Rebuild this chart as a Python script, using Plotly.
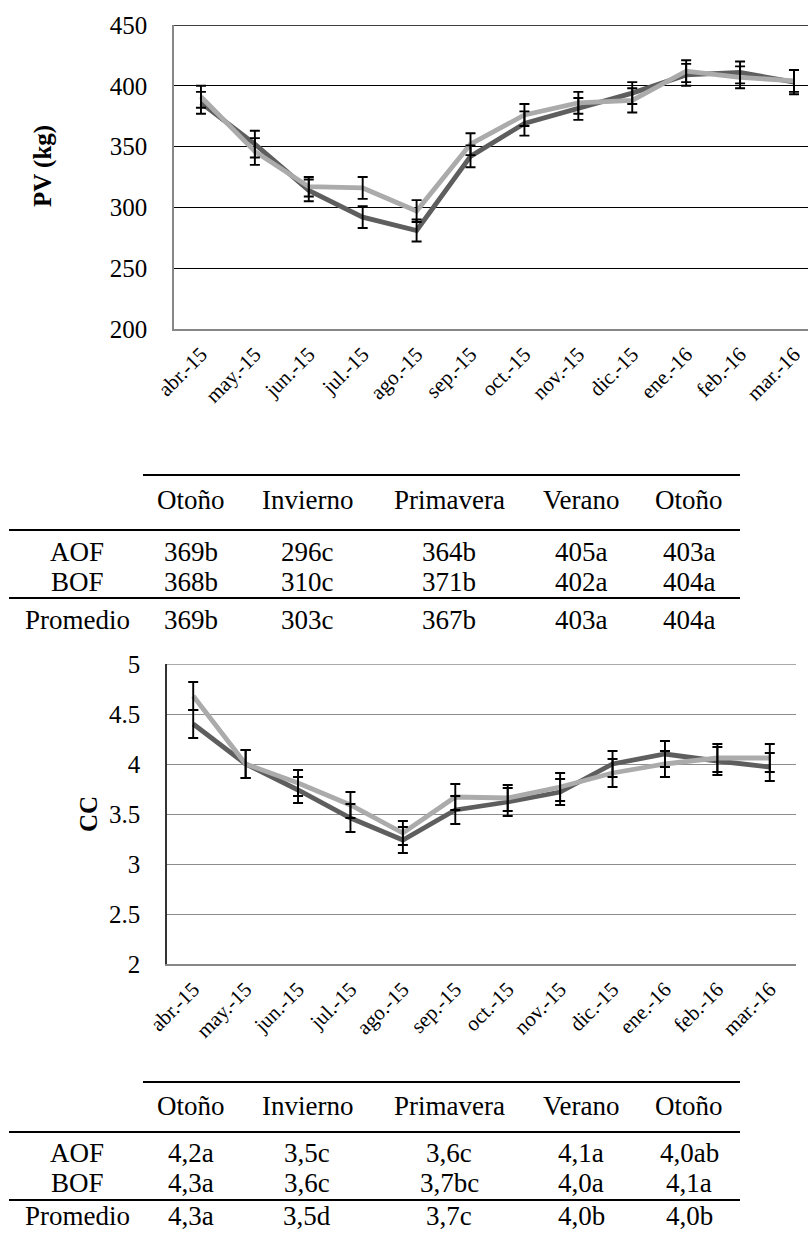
import plotly.graph_objects as go

W, H = 808, 1234

# Months on the category axis
months = ["abr.-15", "may.-15", "jun.-15", "jul.-15", "ago.-15", "sep.-15",
          "oct.-15", "nov.-15", "dic.-15", "ene.-16", "feb.-16", "mar.-16"]

# Live weight (PV, kg) per month with error
pv_aof = [386, 352, 314, 292, 281, 342, 369, 381, 394, 409, 411, 403]
pv_aof_err = [9, 11, 9, 9, 9, 9, 10, 9, 9, 9, 9, 10]
pv_bof = [391, 346, 317, 316, 297, 352, 376, 386, 388, 412, 407, 404]
pv_bof_err = [9, 11, 8, 9, 9, 9, 9, 9, 10, 9, 9, 9]

# Body condition score (CC) per month with error
cc_aof = [4.40, 4.00, 3.74, 3.46, 3.24, 3.54, 3.62, 3.72, 4.00, 4.10, 4.03, 3.97]
cc_aof_err = [0.14, 0.14, 0.13, 0.14, 0.13, 0.14, 0.14, 0.13, 0.13, 0.13, 0.14, 0.14]
cc_bof = [4.68, 4.00, 3.81, 3.59, 3.31, 3.67, 3.66, 3.77, 3.91, 4.00, 4.06, 4.06]
cc_bof_err = [0.14, 0.14, 0.13, 0.13, 0.12, 0.13, 0.13, 0.14, 0.14, 0.13, 0.14, 0.14]

# Seasonal summary tables
seasons = ["Otoño", "Invierno", "Primavera", "Verano", "Otoño"]
row_labels = ["AOF", "BOF", "Promedio"]
pv_tab_aof = ["369b", "296c", "364b", "405a", "403a"]
pv_tab_bof = ["368b", "310c", "371b", "402a", "404a"]
pv_tab_mean = ["369b", "303c", "367b", "403a", "404a"]
cc_tab_aof = ["4,2a", "3,5c", "3,6c", "4,1a", "4,0ab"]
cc_tab_bof = ["4,3a", "3,6c", "3,7bc", "4,0a", "4,1a"]
cc_tab_mean = ["4,3a", "3,5d", "3,7c", "4,0b", "4,0b"]

FONT = "Liberation Serif"
DARK = "#5e5e5e"
LIGHT = "#ababab"


def px(x):
    return x / W


def py(y):
    return 1 - y / H


fig = go.Figure()


def add_series(xa, ya, y, err, color):
    fig.add_trace(go.Scatter(
        x=months, y=y, mode="lines", xaxis=xa, yaxis=ya,
        line=dict(color=color, width=4.8), hoverinfo="skip", showlegend=False))
    return (xa, ya, y, err)


bars = []
bars.append(add_series("x", "y", pv_aof, pv_aof_err, DARK))
bars.append(add_series("x", "y", pv_bof, pv_bof_err, LIGHT))
bars.append(add_series("x2", "y2", cc_aof, cc_aof_err, DARK))
bars.append(add_series("x2", "y2", cc_bof, cc_bof_err, LIGHT))

# Error bars drawn above the lines
for xa, ya, y, err in bars:
    fig.add_trace(go.Scatter(
        x=months, y=y, mode="markers", xaxis=xa, yaxis=ya,
        marker=dict(size=1, opacity=0),
        error_y=dict(type="data", array=err, color="black", thickness=1.9, width=5),
        hoverinfo="skip", showlegend=False))

axis_font = dict(family=FONT, size=25, color="black")
xtick_font = dict(family=FONT, size=21, color="black")

fig.update_layout(
    template="none",
    width=W, height=H,
    margin=dict(l=0, r=0, t=0, b=0, autoexpand=False),
    paper_bgcolor="white", plot_bgcolor="white",
    showlegend=False,
    xaxis=dict(domain=[px(174), 1.0], range=[-0.5, 11.26], type="category",
               anchor="y", automargin=False, showgrid=False, showline=True,
               linecolor="#878787", linewidth=1.5, tickangle=-45,
               tickfont=xtick_font, ticks="outside", ticklen=3,
               tickcolor="rgba(0,0,0,0)"),
    yaxis=dict(domain=[py(329), py(25)], range=[200, 450], dtick=50,
               anchor="x", automargin=False, showgrid=True, gridcolor="black",
               gridwidth=1.3, showline=True, linecolor="#878787", linewidth=1.5,
               zeroline=False, tickfont=axis_font,
               ticks="outside", ticklen=20, tickcolor="rgba(0,0,0,0)"),
    xaxis2=dict(domain=[px(167), px(796)], range=[-0.5, 11.5], type="category",
                anchor="y2", automargin=False, showgrid=False, showline=True,
                linecolor="#878787", linewidth=1.5, tickangle=-45,
                tickfont=xtick_font, ticks="outside", ticklen=3,
                tickcolor="rgba(0,0,0,0)"),
    yaxis2=dict(domain=[py(964), py(664)], range=[2, 5], dtick=0.5,
                anchor="x2", automargin=False, showgrid=True, gridcolor="#8c8c8c",
                gridwidth=1.3, showline=True, linecolor="#333333", linewidth=1.5,
                zeroline=False, tickfont=axis_font,
                ticks="outside", ticklen=20, tickcolor="rgba(0,0,0,0)"),
)

annotations = []
shapes = []

# Top gridlines that close each plot area
shapes.append(dict(type="line", xref="x domain", yref="y", x0=0, x1=1,
                   y0=450, y1=450, line=dict(color="black", width=1.5)))
shapes.append(dict(type="line", xref="x2 domain", yref="y2", x0=0, x1=1,
                   y0=5, y1=5, line=dict(color="#8c8c8c", width=1.5)))

# Axis titles
annotations.append(dict(text="<b>PV (kg)</b>", x=px(43), y=py(166), xref="paper",
                        yref="paper", textangle=-90, showarrow=False,
                        xanchor="center", yanchor="middle",
                        font=dict(family=FONT, size=25, color="black")))
annotations.append(dict(text="<b>CC</b>", x=px(88), y=py(814), xref="paper",
                        yref="paper", textangle=-90, showarrow=False,
                        xanchor="center", yanchor="middle",
                        font=dict(family=FONT, size=25, color="black")))

col_x = [191, 307, 449, 581, 689]
label_x = 77
TFONT = dict(family=FONT, size=27, color="black")


def cell(text, x, y):
    annotations.append(dict(text=text, x=px(x), y=py(y), xref="paper",
                            yref="paper", showarrow=False, font=TFONT,
                            xanchor="center", yanchor="middle", borderpad=0))


def table(top, header_y, rule2, rows_y, rule3, rows):
    for yline, x0 in ((top, 143), (rule2, 9), (rule3, 9)):
        shapes.append(dict(type="line", xref="paper", yref="paper",
                           x0=px(x0), x1=px(740), y0=py(yline), y1=py(yline),
                           line=dict(color="black", width=2.2)))
    for s, cx in zip(seasons, col_x):
        cell(s, cx, header_y)
    for lab, vals, ry in zip(row_labels, rows, rows_y):
        cell(lab, label_x, ry)
        for v, cx in zip(vals, col_x):
            cell(v, cx, ry)


table(475, 500, 530, [552, 582, 620], 598, [pv_tab_aof, pv_tab_bof, pv_tab_mean])
table(1082, 1106, 1132, [1153, 1183, 1216], 1200, [cc_tab_aof, cc_tab_bof, cc_tab_mean])

fig.update_layout(annotations=annotations, shapes=shapes)

fig.write_html("out.html")
